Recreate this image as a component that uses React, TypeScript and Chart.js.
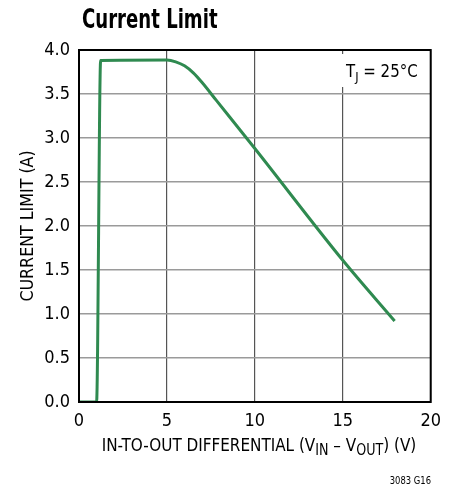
import React, { useEffect, useRef } from "react";
import { Chart, registerables } from "chart.js";

Chart.register(...registerables);

const xValues = [0, 1.0, 1.23, 5.0, 5.5, 6.0, 6.5, 7.0, 7.8, 10, 15, 17.95];
const currentLimit = [0, 0, 3.88, 3.885, 3.865, 3.82, 3.74, 3.63, 3.43, 2.88, 1.61, 0.92];
const titleText = "Current Limit";
const yTitle = "CURRENT LIMIT (A)";
const noteText = "3083 G16";

const FONT = "'DejaVu Sans Condensed', 'DejaVu Sans', sans-serif";

type Part = { t: string; sub?: boolean };

function drawRich(
  ctx: CanvasRenderingContext2D,
  parts: Part[],
  x: number,
  y: number,
  size: number,
  subSize: number,
  align: "left" | "center",
  sx: number
) {
  const widths = parts.map((p) => {
    ctx.font = `${p.sub ? subSize : size}px ${FONT}`;
    return ctx.measureText(p.t).width;
  });
  const total = widths.reduce((a, b) => a + b, 0);
  ctx.save();
  ctx.translate(x, y);
  ctx.scale(sx, 1);
  let cx = align === "center" ? -total / 2 : 0;
  ctx.textAlign = "left";
  ctx.textBaseline = "alphabetic";
  parts.forEach((p, i) => {
    ctx.font = `${p.sub ? subSize : size}px ${FONT}`;
    ctx.fillText(p.t, cx, p.sub ? 4 : 0);
    cx += widths[i];
  });
  ctx.restore();
  return total;
}

const overlay = {
  id: "overlay",
  afterDraw(chart: any) {
    const ctx: CanvasRenderingContext2D = chart.ctx;
    const a = chart.chartArea;
    ctx.save();
    // border
    ctx.strokeStyle = "#000";
    ctx.lineWidth = 2;
    ctx.strokeRect(a.left, a.top, a.right - a.left, a.bottom - a.top);
    ctx.fillStyle = "#000";
    // title
    ctx.save();
    ctx.translate(82, 28);
    ctx.scale(0.745, 1);
    ctx.font = `bold 27px ${FONT}`;
    ctx.textAlign = "left";
    ctx.textBaseline = "alphabetic";
    ctx.fillText(titleText, 0, 0);
    ctx.restore();
    // y title
    ctx.save();
    ctx.translate(33, (a.top + a.bottom) / 2);
    ctx.rotate(-Math.PI / 2);
    ctx.scale(0.98, 1);
    ctx.font = `18px ${FONT}`;
    ctx.textAlign = "center";
    ctx.fillText(yTitle, 0, 0);
    ctx.restore();
    // x title
    drawRich(
      ctx,
      [
        { t: "IN-TO-OUT DIFFERENTIAL (V" },
        { t: "IN", sub: true },
        { t: " \u2013 V" },
        { t: "OUT", sub: true },
        { t: ") (V)" },
      ],
      259,
      451,
      18,
      15,
      "center",
      0.94
    );
    // TJ label
    ctx.fillStyle = "#fff";
    ctx.fillRect(336, a.top + 4, 90, 33);
    ctx.fillStyle = "#000";
    drawRich(ctx, [{ t: "T" }, { t: "J", sub: true }, { t: " = 25\u00B0C" }], 346, 77, 17, 13, "left", 0.98);
    // note
    ctx.save();
    ctx.translate(431, 484);
    ctx.scale(0.85, 1);
    ctx.font = `11px ${FONT}`;
    ctx.textAlign = "right";
    ctx.fillText(noteText, 0, 0);
    ctx.restore();
    ctx.restore();
  },
};

export default function App() {
  const ref = useRef<HTMLCanvasElement | null>(null);
  useEffect(() => {
    document.body.style.margin = "0";
    const chart = new Chart(ref.current!, {
      type: "line",
      data: {
        datasets: [
          {
            data: xValues.map((x, i) => ({ x, y: currentLimit[i] })),
            borderColor: "#2f8a50",
            borderWidth: 3,
            pointRadius: 0,
            cubicInterpolationMode: "monotone",
            borderJoinStyle: "round",
            fill: false,
          } as any,
        ],
      },
      options: {
        animation: false,
        responsive: false,
        maintainAspectRatio: false,
        layout: { padding: { top: 50, right: 18, left: 0, bottom: 0 } },
        plugins: { legend: { display: false }, tooltip: { enabled: false }, title: { display: false } },
        scales: {
          x: {
            type: "linear",
            min: 0,
            max: 20,
            ticks: { stepSize: 5, color: "#000", font: { family: FONT, size: 18 }, padding: 9, maxRotation: 0 },
            grid: { color: "#555", lineWidth: 1.2, drawTicks: false },
            border: { display: false },
            afterFit: (s: any) => {
              s.height = 94;
            },
          },
          y: {
            min: 0,
            max: 4,
            ticks: {
              stepSize: 0.5,
              color: "#000",
              font: { family: FONT, size: 18 },
              padding: 9,
              callback: (v: any) => Number(v).toFixed(1),
            },
            grid: { color: "#9a9a9a", lineWidth: 1.5, drawTicks: false },
            border: { display: false },
            afterFit: (s: any) => {
              s.width = 79;
            },
          },
        },
      },
      plugins: [overlay],
    });
    return () => chart.destroy();
  }, []);
  return (
    <div style={{ position: "fixed", left: 0, top: 0, width: 450, height: 496, background: "#fff" }}>
      <canvas ref={ref} width={450} height={496} style={{ width: 450, height: 496 }} />
    </div>
  );
}
